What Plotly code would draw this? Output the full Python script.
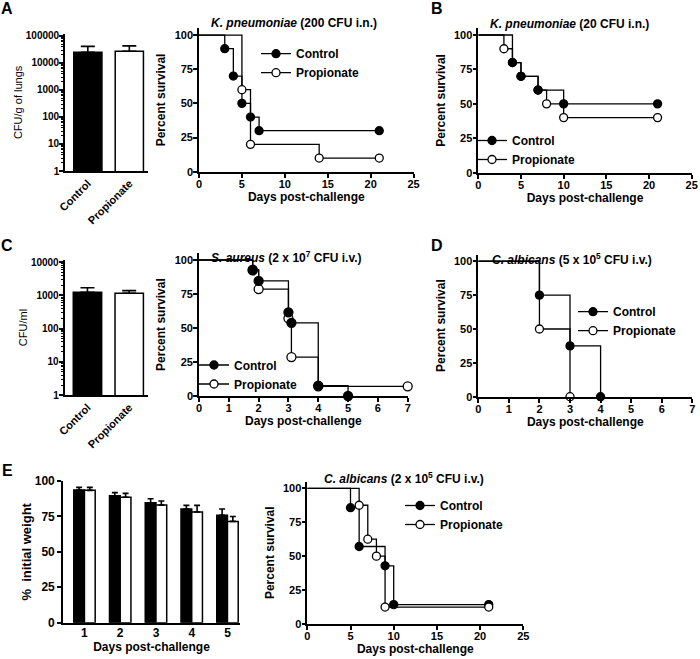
import plotly.graph_objects as go

FONT = "Liberation Sans, Arial, Helvetica, sans-serif"
W, H = 700, 659

# ---------------- data ----------------
bar_groups = ["Control", "Propionate"]
a_cfu = [25000, 27000]
a_cfu_err = [16000, 16000]
c_cfu = [1250, 1165]
c_cfu_err = [470, 235]
log_tickvals = [1, 10, 100, 1000, 10000, 100000]
log_ticktext = ["1", "10", "100", "1000", "10000", "100000"]

a_ctrl_days = [0, 3, 4, 5, 6, 7, 21]
a_ctrl_surv = [100, 90, 70, 50, 40, 30, 30]
a_prop_days = [0, 5, 6, 14, 21]
a_prop_surv = [100, 60, 20, 10, 10]

b_ctrl_days = [0, 4, 5, 7, 10, 21]
b_ctrl_surv = [100, 80, 70, 60, 50, 50]
b_prop_days = [0, 3, 4, 5, 7, 8, 10, 21]
b_prop_surv = [100, 90, 80, 70, 60, 50, 40, 40]

c_ctrl_days = [0, 1.8, 2, 3, 3.1, 4, 5]
c_ctrl_surv = [100, 92.3, 84.6, 61.5, 53.8, 7.7, 0]
c_prop_days = [0, 1.8, 2, 3, 3.1, 4, 7]
c_prop_surv = [100, 92.9, 78.6, 57.1, 28.6, 7.1, 7.1]

d_ctrl_days = [0, 2, 3, 4]
d_ctrl_surv = [100, 75, 37.5, 0]
d_prop_days = [0, 2, 3]
d_prop_surv = [100, 50, 0]

e_days = [1, 2, 3, 4, 5]
e_ctrl_weight = [93.6, 89.6, 84.7, 80.2, 75.8]
e_ctrl_err = [1.9, 2.2, 2.8, 2.6, 4.4]
e_prop_weight = [93.4, 88.5, 83.0, 78.1, 71.5]
e_prop_err = [2.1, 2.8, 2.9, 4.7, 3.5]

e_ctrl_days = [0, 5, 6, 9, 10, 21]
e_ctrl_surv = [100, 85.7, 57.1, 42.9, 14.3, 14.3]
e_prop_days = [0, 6, 7, 8, 9, 21]
e_prop_surv = [100, 87.5, 62.5, 50, 12.5, 12.5]

# ---------------- helpers ----------------
def px_x(a, b):
    return [a / W, b / W]

def px_y(bottom, top):
    return [1 - bottom / H, 1 - top / H]

AX = dict(showline=True, linecolor="black", linewidth=1.6, ticks="outside",
          ticklen=4, tickwidth=1.6, tickcolor="black", showgrid=False,
          zeroline=False, automargin=False, ticklabeloverflow="allow",
          tickfont=dict(family=FONT, size=11, color="black", weight="bold"))
TF = dict(family=FONT, size=12, color="black", weight="bold")

fig = go.Figure()
layout = dict(template="none", width=W, height=H, margin=dict(l=0, r=0, t=0, b=0, autoexpand=False),
              plot_bgcolor="white", paper_bgcolor="white", showlegend=True,
              barmode="overlay", font=dict(family=FONT, color="black"))

# survival panels: (name, xdomain px, ydomain px, xmax, xdtick, ctrl, prop, legend (text x, mid y), ctrl_on_top, msize)
surv_panels = [
    ("A", (199, 413.6), (171.7, 28.2), 25, 5, (a_ctrl_days, a_ctrl_surv), (a_prop_days, a_prop_surv), (296, 63.7), True, 8),
    ("B", (478.3, 691.7), (172.7, 28.1), 25, 5, (b_ctrl_days, b_ctrl_surv), (b_prop_days, b_prop_surv), (512, 150.5), True, 8),
    ("C", (199, 407.7), (396, 253.2), 7, 1, (c_ctrl_days, c_ctrl_surv), (c_prop_days, c_prop_surv), (234, 375), True, 9),
    ("D", (478.3, 692.3), (396.7, 254.5), 7, 1, (d_ctrl_days, d_ctrl_surv), (d_prop_days, d_prop_surv), (613, 321.7), True, 8),
    ("E", (307.3, 523.3), (624, 481.5), 25, 5, (e_ctrl_days, e_ctrl_surv), (e_prop_days, e_prop_surv), (440, 515.5), False, 8),
]

axis_idx = 1
legend_idx = 1
for name, xd, yd, xmax, xdt, ctrl, prop, lpos, ctrl_top, ms in surv_panels:
    xa = "x" if axis_idx == 1 else f"x{axis_idx}"
    ya = "y" if axis_idx == 1 else f"y{axis_idx}"
    xkey = "xaxis" if axis_idx == 1 else f"xaxis{axis_idx}"
    ykey = "yaxis" if axis_idx == 1 else f"yaxis{axis_idx}"
    lg = "legend" if legend_idx == 1 else f"legend{legend_idx}"
    layout[xkey] = dict(AX, domain=px_x(*xd), range=[0, xmax], dtick=xdt, tick0=0,
                        anchor=ya, ticklabelstandoff=-3,
                        title=dict(text="Days post-challenge", standoff=3, font=TF))
    layout[ykey] = dict(AX, domain=px_y(*yd), range=[0, 105], tickvals=[0, 25, 50, 75, 100],
                        anchor=xa, ticklabelstandoff=-2,
                        title=dict(text="Percent survival", standoff=6, font=TF))
    # step lines
    for days, surv in (prop, ctrl):
        fig.add_trace(go.Scatter(x=days, y=surv, mode="lines", line=dict(color="black", width=1.3, shape="hv"),
                                 xaxis=xa, yaxis=ya, showlegend=False, hoverinfo="skip"))
    order = [("Propionate", prop, "white"), ("Control", ctrl, "black")]
    if not ctrl_top:
        order = order[::-1]
    for lab, (days, surv), fill in order:
        fig.add_trace(go.Scatter(x=days[1:], y=surv[1:], mode="markers", cliponaxis=False,
                                 marker=dict(size=ms, color=fill, line=dict(color="black", width=1.3)),
                                 xaxis=xa, yaxis=ya, showlegend=False))
    for lab, fill in (("Control", "black"), ("Propionate", "white")):
        fig.add_trace(go.Scatter(x=[None], y=[None], mode="lines+markers", name=lab, legend=lg,
                                 line=dict(color="black", width=1.3),
                                 marker=dict(size=8, color=fill, line=dict(color="black", width=1.3)),
                                 xaxis=xa, yaxis=ya))
    layout[lg] = dict(x=(lpos[0] - 40) / W, y=1 - (lpos[1] - 24.5) / H, xanchor="left", yanchor="top",
                      bgcolor="rgba(0,0,0,0)", borderwidth=0, tracegroupgap=0,
                      font=dict(family=FONT, size=12, color="black", weight="bold"))
    axis_idx += 1
    legend_idx += 1

# CFU bar panels (A, C)
cfu_panels = [
    ((65, 148), (171, 33.8), 5.08, a_cfu, a_cfu_err, "CFU/g of lungs", log_tickvals, log_ticktext),
    ((64.5, 148), (395, 260), 4.07, c_cfu, c_cfu_err, "CFU/ml", log_tickvals[:5], log_ticktext[:5]),
]
for xd, yd, ytop, vals, errs, ytitle, tv, tt in cfu_panels:
    xa, ya = f"x{axis_idx}", f"y{axis_idx}"
    layout[f"xaxis{axis_idx}"] = dict(AX, domain=px_x(*xd), type="category", range=[-0.55, 1.45],
                                      ticks="", ticklen=0, tickangle=-45, anchor=ya)
    layout[f"yaxis{axis_idx}"] = dict(AX, domain=px_y(*yd), type="log", range=[0, ytop],
                                      tickvals=tv, ticktext=tt, anchor=xa, ticklabelstandoff=-2,
                                      tickfont=dict(family=FONT, size=10, color="black", weight="bold"),
                                      minor=dict(ticks="outside", ticklen=2, tickwidth=1, tickcolor="black", dtick="D1"),
                                      title=dict(text=ytitle, standoff=1,
                                                 font=dict(family=FONT, size=11, color="black", weight="normal")))
    fig.add_trace(go.Bar(x=bar_groups, y=vals, width=0.68, xaxis=xa, yaxis=ya, showlegend=False,
                         marker=dict(color=["black", "white"], line=dict(color="black", width=1.5)),
                         error_y=dict(type="data", array=errs, arrayminus=[0, 0], symmetric=False,
                                      color="black", thickness=1.6, width=7)))
    axis_idx += 1

# E weight bars
xa, ya = f"x{axis_idx}", f"y{axis_idx}"
layout[f"xaxis{axis_idx}"] = dict(AX, domain=px_x(63, 240), range=[0.4, 5.35], tickvals=e_days,
                                  ticks="", ticklen=0, anchor=ya, ticklabelstandoff=-2,
                                  tickfont=dict(family=FONT, size=12, color="black", weight="bold"),
                                  title=dict(text="Days post-challenge", standoff=2, font=TF))
layout[f"yaxis{axis_idx}"] = dict(AX, domain=px_y(622.7, 481), range=[0, 100], tickvals=[0, 25, 50, 75, 100],
                                  anchor=xa, title=dict(text="%  initial weight", standoff=0,
                                                        font=dict(family=FONT, size=13, color="black", weight="bold")),
                                  tickfont=dict(family=FONT, size=12, color="black", weight="bold"))
for vals, errs, fill, off in ((e_ctrl_weight, e_ctrl_err, "black", -0.3), (e_prop_weight, e_prop_err, "white", 0.0)):
    fig.add_trace(go.Bar(x=e_days, y=vals, width=0.3, offset=off, xaxis=xa, yaxis=ya, showlegend=False,
                         marker=dict(color=fill, line=dict(color="black", width=1.5)),
                         error_y=dict(type="data", array=errs, arrayminus=[0] * len(errs), symmetric=False,
                                      color="black", thickness=1.6, width=3)))

# titles
titles = [
    ("<i>K. pneumoniae</i> (200 CFU i.n.)", 294, 23),
    ("<i>K. pneumoniae</i> (20 CFU i.n.)", 569, 24),
    ("<i>S. aureus</i> (2 x 10<sup>7</sup> CFU i.v.)", 286, 257),
    ("<i>C. albicans</i> (5 x 10<sup>5</sup> CFU i.v.)", 572, 259),
    ("<i>C. albicans</i> (2 x 10<sup>5</sup> CFU i.v.)", 404, 478),
]
ann = []
for txt, cx, cy in titles:
    ann.append(dict(text=txt, x=cx / W, y=1 - cy / H, xref="paper", yref="paper", showarrow=False,
                    xanchor="center", yanchor="middle",
                    font=dict(family=FONT, size=12, color="black", weight="bold")))
for letter, cx, cy in (("A", 7, 9), ("B", 437, 9), ("C", 7, 245), ("D", 437, 245), ("E", 7, 470)):
    ann.append(dict(text=letter, x=cx / W, y=1 - cy / H, xref="paper", yref="paper", showarrow=False,
                    xanchor="center", yanchor="middle",
                    font=dict(family=FONT, size=16, color="black", weight="bold")))
layout["annotations"] = ann

fig.update_layout(**layout)
fig.write_html("out.html", config={"displayModeBar": False},
               post_script="document.body.style.margin='0px';document.body.style.padding='0px';")
